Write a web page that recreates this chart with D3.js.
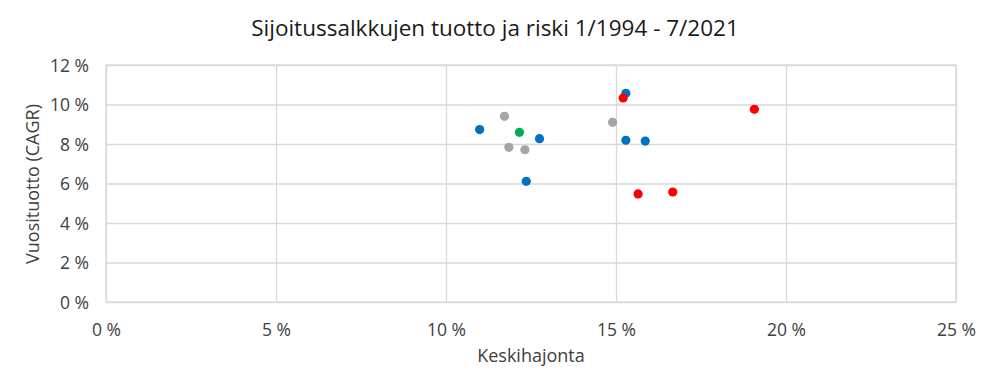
<!DOCTYPE html>
<html><head><meta charset="utf-8">
<script src="https://cdn.jsdelivr.net/npm/d3@7"></script>
<style>body{margin:0;background:#fff}svg{display:block}text{font-family:"Open Sans","Noto Sans",sans-serif;fill:#404040}</style>
</head><body><svg id="c" width="990" height="388"></svg>
<script>
const title = "Sijoitussalkkujen tuotto ja riski 1/1994 - 7/2021";
const xLabel = "Keskihajonta";
const yLabel = "Vuosituotto (CAGR)";
const xTicks = [0, 5, 10, 15, 20, 25];
const yTicks = [0, 2, 4, 6, 8, 10, 12];
// risk (x, %) and return (y, %) per colour group
const blueRisk = [15.29, 10.99, 12.75, 15.29, 15.86, 12.36];
const blueReturn = [10.57, 8.73, 8.27, 8.19, 8.15, 6.11];
const redRisk = [15.21, 19.07, 15.65, 16.67];
const redReturn = [10.33, 9.76, 5.47, 5.57];
const greyRisk = [11.72, 14.90, 11.85, 12.32];
const greyReturn = [9.40, 9.10, 7.83, 7.71];
const greenRisk = [12.16];
const greenReturn = [8.59];

const groups = [
  {color:"#A5A5A5", x:greyRisk, y:greyReturn},
  {color:"#0070C0", x:blueRisk, y:blueReturn},
  {color:"#FF0000", x:redRisk, y:redReturn},
  {color:"#00B050", x:greenRisk, y:greenReturn}
];

const svg = d3.select("#c");
const L=106, R=956, T=65, B=302;
const x = d3.scaleLinear().domain([0,25]).range([L,R]);
const y = d3.scaleLinear().domain([0,12]).range([B,T]);

svg.append("text").attr("x",495).attr("y",36).attr("text-anchor","middle")
  .style("font-size","22.5px").style("fill","#1a1a1a").text(title);

const gx = svg.append("g").attr("transform",`translate(0,${B})`)
  .call(d3.axisBottom(x).tickValues(xTicks).tickSize(-(B-T)).tickFormat(d=>d+" %"));
gx.select(".domain").remove();
gx.selectAll("line").attr("stroke","#D9D9D9").attr("stroke-width",1.3);
gx.selectAll("text").attr("dy",0).attr("y",34).style("font-size","17.5px").style("fill","#404040");

const gy = svg.append("g").attr("transform",`translate(${L},0)`)
  .call(d3.axisLeft(y).tickValues(yTicks).tickSize(-(R-L)).tickFormat(d=>d+" %"));
gy.select(".domain").remove();
gy.selectAll("line").attr("stroke","#D9D9D9").attr("stroke-width",1.3);
gy.selectAll("text").attr("x",-17).attr("dy","0.35em").style("font-size","17.5px").style("fill","#404040");

svg.append("rect").attr("x",L).attr("y",T).attr("width",R-L).attr("height",B-T)
  .attr("fill","none").attr("stroke","#D9D9D9").attr("stroke-width",1.3);

groups.forEach(g=>{
  svg.append("g").selectAll("circle").data(g.x.map((v,i)=>[v,g.y[i]])).join("circle")
    .attr("cx",d=>x(d[0])).attr("cy",d=>y(d[1])).attr("r",4.6).attr("fill",g.color);
});

svg.append("text").attr("x",531).attr("y",362).attr("text-anchor","middle")
  .style("font-size","18px").style("fill","#404040").text(xLabel);
svg.append("text").attr("transform","translate(39,184) rotate(-90)").attr("text-anchor","middle")
  .style("font-size","18px").style("fill","#404040").text(yLabel);
</script></body></html>
